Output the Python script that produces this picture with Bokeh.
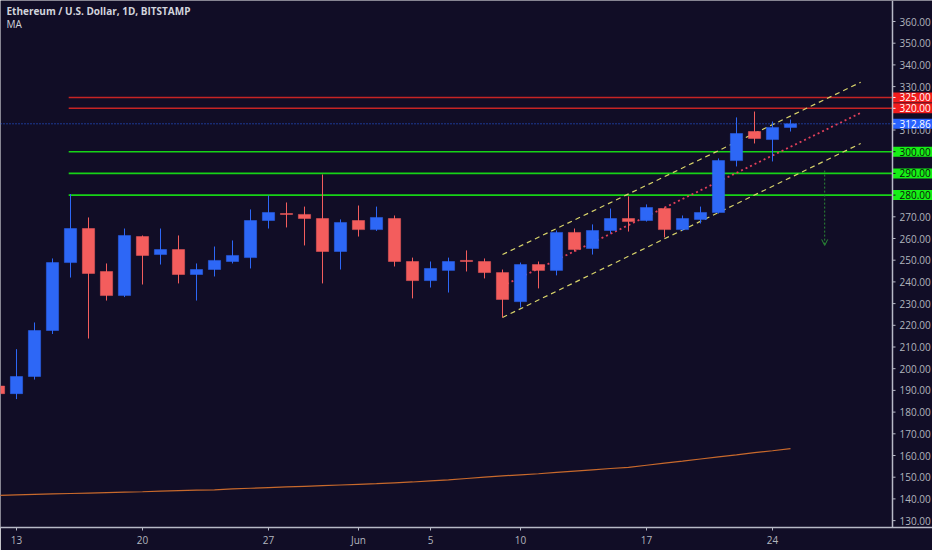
from bokeh.plotting import figure
from bokeh.models import (ColumnDataSource, FixedTicker, Span, Arrow, OpenHead, Range1d)
from bokeh.embed import file_html
from bokeh.resources import INLINE
from bokeh.core.properties import value

# ---------------- data ----------------
# day index: 0 = May 13 2019
days = list(range(-1, 44))
opens = [192.0, 188.5, 196.4, 217.6, 248.9, 264.6, 244.8, 233.7, 260.9, 252.6,
         254.9, 243.4, 245.7, 249.4, 251.2, 268.3, 271.5, 271.1, 269.2, 254.0,
         268.3, 264.1, 269.2, 249.4, 240.6, 245.3, 249.9, 249.4, 244.3, 230.9,
         248.0, 245.3, 262.8, 255.4, 263.7, 269.2, 268.3, 273.8, 264.1, 268.8,
         272.0, 295.9, 309.3, 305.6, 311.2]
highs = [194.0, 209.0, 221.3, 250.8, 280.5, 269.7, 248.5, 264.6, 261.4, 264.6,
         261.4, 248.5, 256.3, 259.1, 273.4, 279.8, 276.6, 274.7, 289.5, 268.8,
         275.2, 274.7, 270.6, 251.2, 249.4, 251.2, 254.5, 250.8, 245.7, 248.9,
         249.4, 263.7, 264.6, 266.5, 273.8, 279.4, 275.7, 274.3, 270.6, 274.7,
         296.9, 315.8, 318.5, 313.9, 314.8]
lows = [186.0, 186.0, 195.0, 216.0, 242.0, 213.9, 231.4, 233.0, 238.8, 248.0,
        239.3, 231.4, 242.5, 248.5, 246.2, 264.6, 265.1, 256.8, 239.3, 245.7,
        260.9, 263.5, 247.1, 232.4, 237.4, 235.1, 244.8, 241.6, 223.6, 228.2,
        237.0, 243.0, 254.0, 252.6, 262.3, 263.2, 267.8, 260.5, 263.5, 266.9,
        271.5, 293.2, 303.8, 295.5, 309.3]
closes = [188.5, 196.4, 217.6, 248.9, 264.6, 243.9, 233.7, 261.4, 252.2, 254.9,
          243.4, 245.7, 249.9, 252.2, 268.3, 272.0, 271.1, 269.2, 254.0, 267.4,
          264.1, 269.7, 249.4, 240.6, 246.2, 249.4, 249.4, 244.3, 231.9, 248.0,
          245.3, 262.8, 254.9, 263.7, 269.2, 267.8, 274.3, 264.1, 269.2, 272.0,
          295.9, 308.4, 306.1, 311.2, 312.86]
ma_values = [141.6, 141.9, 142.1, 142.3, 142.5, 142.7, 142.9, 143.1, 143.3, 143.6,
             143.8, 144.0, 144.2, 144.6, 144.9, 145.2, 145.5, 145.8, 146.1, 146.4,
             146.7, 147.0, 147.4, 147.8, 148.3, 148.8, 149.4, 150.0, 150.6, 151.1,
             151.6, 152.2, 152.8, 153.4, 154.0, 154.5, 155.5, 156.5, 157.4, 158.4,
             159.4, 160.3, 161.3, 162.2, 163.2]

last_price = 312.86
red_levels = [325.0, 320.0]
green_levels = [300.0, 290.0, 280.0]
level_start_day = 2.9

channel_days = [27.0, 46.9]
channel_upper = [252.6, 332.0]
channel_lower = [223.6, 303.8]
channel_mid = [238.1, 317.9]

arrow_day = 44.9
arrow_from = 291.3
arrow_to = 256.8

x_tick_days = [0, 7, 14, 19, 23, 28, 35, 42]
x_tick_labels = ["13", "20", "27", "Jun", "5", "10", "17", "24"]
y_ticks = [130, 140, 150, 160, 170, 180, 190, 200, 210, 220, 230, 240, 250,
           260, 270, 280, 290, 300, 310, 320, 330, 340, 350, 360]

title_text = "Ethereum / U.S. Dollar, 1D, BITSTAMP"
indicator_text = "MA"

# ---------------- style ----------------
BG = "#110d26"
UP = "#2d67f6"
DOWN = "#f35d5d"
AXIS_TXT = "#b2b5be"
AXIS_LINE = "#b7b9c6"
FONT = "Open Sans"

W, H = 932, 550
PX_DAY = 18.0          # pixels per day
PX_USD = 2.17          # pixels per dollar
BOTTOM = 23            # height of the time-axis panel
FRAME_H = H - BOTTOM
AXIS_PX = 892          # x pixel of the price scale line
x0 = -16 / PX_DAY
x1 = x0 + W / PX_DAY
axis_day = x0 + AXIS_PX / PX_DAY
y1 = 360 + 21 / PX_USD
y0 = y1 - FRAME_H / PX_USD

p = figure(width=W, height=H, output_backend="svg", toolbar_location=None,
           x_range=Range1d(x0, x1), y_range=Range1d(y0, y1),
           y_axis_location=None, min_border_left=0, min_border_top=0,
           min_border_right=0, min_border_bottom=BOTTOM)
p.background_fill_color = BG
p.border_fill_color = BG
p.outline_line_color = None
p.grid.visible = False

# time axis
xa = p.xaxis[0]
xa.ticker = FixedTicker(ticks=x_tick_days)
xa.major_label_overrides = {d: t for d, t in zip(x_tick_days, x_tick_labels)}
xa.axis_line_color = AXIS_LINE
xa.axis_line_width = 1.5
xa.major_tick_line_color = AXIS_LINE
xa.major_tick_out = 3
xa.major_tick_in = 0
xa.minor_tick_line_color = None
xa.major_label_text_color = AXIS_TXT
xa.major_label_text_font = FONT
xa.major_label_text_font_size = "10px"
xa.major_label_standoff = 2

# MA line
p.line(days, ma_values, line_color="#c8692c", line_width=1.2)

# levels
for lv in red_levels:
    p.segment(x0=[level_start_day], y0=[lv], x1=[axis_day], y1=[lv],
              line_color="#c62424", line_width=1.6)
for lv in green_levels:
    p.segment(x0=[level_start_day], y0=[lv], x1=[axis_day], y1=[lv],
              line_color="#17d317", line_width=1.6)

# last price line
p.segment(x0=[x0], y0=[last_price], x1=[axis_day], y1=[last_price],
          line_color="#2962ff", line_dash="1 2", line_width=1)

# channel
p.line(channel_days, channel_upper, line_color="#d8d36a", line_dash="5 4", line_width=1.2)
p.line(channel_days, channel_lower, line_color="#d8d36a", line_dash="5 4", line_width=1.2)
p.line(channel_days, channel_mid, line_color="#e0405a", line_dash="2 3", line_width=1.8)

# candles
colors = [UP if c >= o else DOWN for o, c in zip(opens, closes)]
src = ColumnDataSource(dict(day=days, o=opens, h=highs, l=lows, c=closes,
                            top=[max(o, c) for o, c in zip(opens, closes)],
                            bot=[min(o, c) for o, c in zip(opens, closes)],
                            color=colors))
p.segment(x0="day", y0="h", x1="day", y1="l", color="color", line_width=1, source=src)
p.vbar(x="day", width=0.68, top="top", bottom="bot", fill_color="color",
       line_color="color", line_width=0.5, source=src)

# arrow
p.add_layout(Arrow(end=OpenHead(size=6, line_color="#2a8a35", line_width=1),
                   x_start=arrow_day, y_start=arrow_from, x_end=arrow_day, y_end=arrow_to,
                   line_color="#2a8a35", line_dash="2 2", line_width=1))

# ---- price scale (right) ----
p.add_layout(Span(location=axis_day, dimension="height", line_color=AXIS_LINE,
                  line_width=1.5))
tick_len = 3 / PX_DAY
p.segment(x0=[axis_day] * len(y_ticks), y0=y_ticks,
          x1=[axis_day + tick_len] * len(y_ticks), y1=y_ticks,
          line_color=AXIS_LINE, line_width=1)
p.text(x=[axis_day] * len(y_ticks), y=y_ticks, text=[f"{v:.2f}" for v in y_ticks],
       x_offset=7, text_baseline="middle", text_align="left",
       text_font=value(FONT), text_font_size=value("10px"), text_color=AXIS_TXT)

# coloured price labels
lab_vals = red_levels + [last_price] + green_levels
lab_bg = ["#f21c1c"] * len(red_levels) + ["#2962ff"] + ["#16f016"] * len(green_levels)
lab_fg = ["#ffffff"] * len(red_levels) + ["#ffffff"] + ["#0d0d0d"] * len(green_levels)
box_center = axis_day + (W - AXIS_PX) / 2 / PX_DAY
p.rect(x=[box_center] * len(lab_vals), y=lab_vals, width=W - AXIS_PX, height=10,
       width_units="screen", height_units="screen", fill_color=lab_bg, line_color=None)
p.segment(x0=[axis_day] * len(lab_vals), y0=lab_vals,
          x1=[axis_day + tick_len] * len(lab_vals), y1=lab_vals,
          line_color=lab_fg, line_width=1)
p.text(x=[axis_day] * len(lab_vals), y=lab_vals, text=[f"{v:.2f}" for v in lab_vals],
       x_offset=7, text_baseline="middle", text_align="left",
       text_font=value(FONT), text_font_size=value("10px"), text_color=lab_fg)

# title texts
p.text(x=[x0], y=[360 + 11 / PX_USD], text=[title_text], x_offset=6,
       text_baseline="middle", text_font=value(FONT), text_font_size=value("10px"),
       text_font_style="bold", text_color="#d1d4dc")
p.text(x=[x0], y=[360 - 2 / PX_USD], text=[indicator_text], x_offset=6,
       text_baseline="middle", text_font=value(FONT), text_font_size=value("10px"),
       text_color="#d1d4dc")

open("out.html", "w").write(file_html(p, INLINE))
